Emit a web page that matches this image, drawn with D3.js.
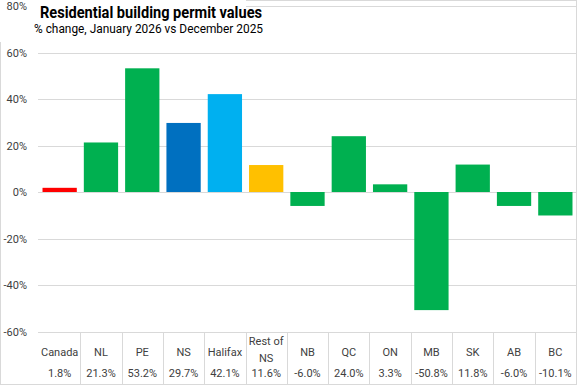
<!DOCTYPE html>
<html>
<head>
<meta charset="utf-8">
<script src="https://cdn.jsdelivr.net/npm/d3@7"></script>
<style>
  body { margin: 0; background: #fff; }
  text { font-family: Roboto, "Liberation Sans", sans-serif; }
</style>
</head>
<body>
<div id="chart"></div>
<script>
const categories = ["Canada", "NL", "PE", "NS", "Halifax", "Rest of NS", "NB", "QC", "ON", "MB", "SK", "AB", "BC"];
const labelLines = [["Canada"], ["NL"], ["PE"], ["NS"], ["Halifax"], ["Rest of", "NS"], ["NB"], ["QC"], ["ON"], ["MB"], ["SK"], ["AB"], ["BC"]];
const values = [1.8, 21.3, 53.2, 29.7, 42.1, 11.6, -6.0, 24.0, 3.3, -50.8, 11.8, -6.0, -10.1];
const barColors = ["#ff0000", "#00b050", "#00b050", "#0070c0", "#00b0f0", "#ffc000", "#00b050", "#00b050", "#00b050", "#00b050", "#00b050", "#00b050", "#00b050"];
const yTicks = [-60, -40, -20, 0, 20, 40, 60, 80];

const W = 577, H = 385;
const margin = { left: 39, right: 1, top: 6, plotBottom: 331.5 };

const svg = d3.select("#chart").append("svg")
  .attr("width", W).attr("height", H);

const x = d3.scaleBand()
  .domain(categories)
  .range([margin.left, W - margin.right])
  .paddingInner(0.17)
  .paddingOuter(0.085);

const y = d3.scaleLinear()
  .domain([-60, 80])
  .range([margin.plotBottom, margin.top]);

// outer border
svg.append("rect")
  .attr("x", 0.5).attr("y", 0.5)
  .attr("width", W - 1).attr("height", H - 1)
  .attr("fill", "none").attr("stroke", "#d9d9d9");

// gridlines
svg.append("g")
  .selectAll("line")
  .data(yTicks)
  .join("line")
  .attr("x1", margin.left - 1).attr("x2", W - 1)
  .attr("y1", d => Math.round(y(d)) + 0.5).attr("y2", d => Math.round(y(d)) + 0.5)
  .attr("stroke", "#d9d9d9");

// bars
svg.append("g")
  .selectAll("rect")
  .data(values)
  .join("rect")
  .attr("x", (d, i) => x(categories[i]))
  .attr("width", x.bandwidth())
  .attr("y", d => y(Math.max(0, d)))
  .attr("height", d => Math.abs(y(d) - y(0)))
  .attr("fill", (d, i) => barColors[i]);

// table below
const tableTop = Math.round(y(-60)) + 0.5;
const colEdges = d3.range(1, categories.length).map(i => margin.left + i * (W - margin.right - margin.left) / categories.length);

svg.append("g")
  .selectAll("line")
  .data(colEdges)
  .join("line")
  .attr("x1", d => Math.round(d) + 0.5).attr("x2", d => Math.round(d) + 0.5)
  .attr("y1", tableTop).attr("y2", H - 1)
  .attr("stroke", "#d9d9d9");

const cells = svg.append("g")
  .selectAll("g")
  .data(categories)
  .join("g")
  .attr("transform", d => `translate(${x(d) + x.bandwidth() / 2},0)`);

cells.each(function (d, i) {
  const g = d3.select(this);
  const lines = labelLines[i];
  const startY = lines.length > 1 ? 345 : 356;
  lines.forEach((t, j) => {
    g.append("text")
      .attr("y", startY + j * 17)
      .attr("text-anchor", "middle")
      .attr("font-size", 11)
      .attr("fill", "#404040")
      .text(t);
  });
  g.append("text")
    .attr("y", 377)
    .attr("text-anchor", "middle")
    .attr("font-size", 11)
    .attr("fill", "#404040")
    .text(values[i].toFixed(1) + "%");
});

// title block covers the top of the plot
svg.append("rect")
  .attr("x", 0).attr("y", 0)
  .attr("width", 246).attr("height", 42)
  .attr("fill", "#fff");

// y labels
svg.append("g")
  .selectAll("text")
  .data(yTicks)
  .join("text")
  .attr("x", 27)
  .attr("y", d => y(d) + 4)
  .attr("text-anchor", "end")
  .attr("font-size", 11)
  .attr("fill", "#404040")
  .text(d => d + "%");

svg.append("text")
  .attr("x", 40).attr("y", 18)
  .attr("font-size", 16)
  .attr("font-weight", "bold")
  .attr("fill", "#000")
  .attr("textLength", 222)
  .attr("lengthAdjust", "spacingAndGlyphs")
  .text("Residential building permit values");

svg.append("text")
  .attr("x", 34).attr("y", 33)
  .attr("font-size", 12)
  .attr("fill", "#000")
  .attr("textLength", 229)
  .attr("lengthAdjust", "spacingAndGlyphs")
  .text("% change, January 2026 vs December 2025");
</script>
</body>
</html>
